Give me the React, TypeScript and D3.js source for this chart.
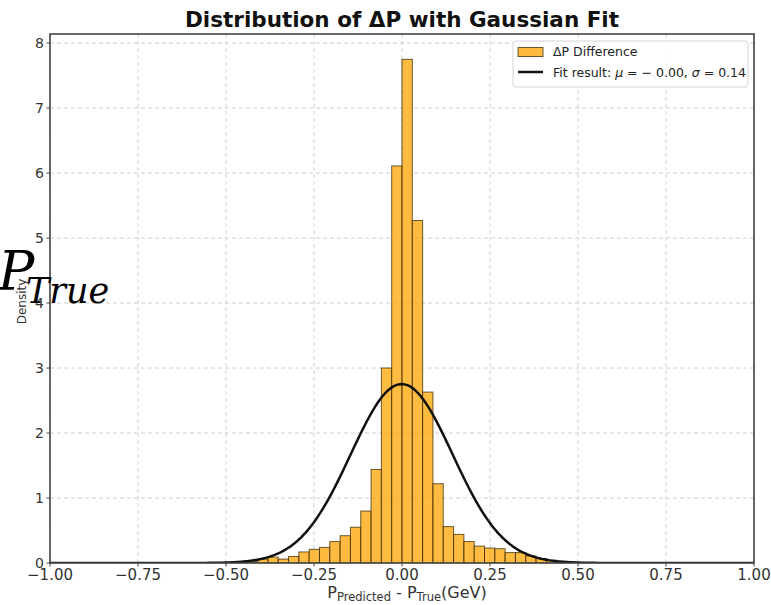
import React from "react";
import * as d3 from "d3";

// Histogram: first bin lower edge and bin width (GeV)
const binStart = -0.5274;
const binWidth = 0.0293;
// Density per bin (left to right)
const densities = [
  0.005, 0.005, 0.01, 0.02, 0.06, 0.09, 0.06, 0.1, 0.17, 0.21, 0.24, 0.33, 0.42,
  0.55, 0.8, 1.44, 3.0, 6.11, 7.75, 5.27, 2.63, 1.22, 0.56, 0.44, 0.33, 0.26,
  0.23, 0.22, 0.16, 0.16, 0.11, 0.07, 0.04, 0.02, 0.01,
];
// Gaussian fit
const fitMu = -0.001;
const fitSigma = 0.1449;

const xTicks = [-1, -0.75, -0.5, -0.25, 0, 0.25, 0.5, 0.75, 1];
const yTicks = [0, 1, 2, 3, 4, 5, 6, 7, 8];
const xDomain: [number, number] = [-1, 1];
const yDomain: [number, number] = [0, 8.14];

const W = 771;
const H = 605;
const left = 50;
const right = 754;
const top = 34;
const bottom = 563;

const fmtX = (v: number) => (v < 0 ? "\u2212" : "") + Math.abs(v).toFixed(2);

export default function App() {
  const x = d3.scaleLinear().domain(xDomain).range([left, right]);
  const y = d3.scaleLinear().domain(yDomain).range([bottom, top]);

  const bins = densities.map((d, i) => ({
    x0: binStart + i * binWidth,
    x1: binStart + (i + 1) * binWidth,
    d,
  }));

  const pts: [number, number][] = d3.range(0, 401).map((i) => {
    const xv = xDomain[0] + (i / 400) * (xDomain[1] - xDomain[0]);
    const yv =
      Math.exp(-0.5 * ((xv - fitMu) / fitSigma) ** 2) /
      (fitSigma * Math.sqrt(2 * Math.PI));
    return [xv, yv];
  });
  const line = d3
    .line<[number, number]>()
    .x((p) => x(p[0]))
    .y((p) => y(p[1]));

  const font = "DejaVu Sans, sans-serif";
  const barFill = "#ffa500";

  return (
    <svg
      width={W}
      height={H}
      style={{ position: "absolute", left: 0, top: 0, background: "#fff" }}
      fontFamily={font}
    >
      <rect x={0} y={0} width={W} height={H} fill="#fff" />
      <clipPath id="plotclip">
        <rect x={left} y={top} width={right - left} height={bottom - top} />
      </clipPath>
      {/* grid */}
      <g stroke="#cfcfcf" strokeWidth={1} strokeDasharray="4,3">
        {xTicks.map((t) => (
          <line key={"gx" + t} x1={x(t)} x2={x(t)} y1={top} y2={bottom} />
        ))}
        {yTicks.map((t) => (
          <line key={"gy" + t} x1={left} x2={right} y1={y(t)} y2={y(t)} />
        ))}
      </g>
      {/* bars */}
      <g clipPath="url(#plotclip)">
        {bins.map((b, i) => (
          <rect
            key={i}
            x={x(b.x0)}
            y={y(b.d)}
            width={x(b.x1) - x(b.x0)}
            height={y(0) - y(b.d)}
            fill={barFill}
            fillOpacity={0.75}
            stroke="#3a2a05"
            strokeOpacity={0.75}
            strokeWidth={1}
          />
        ))}
        <path d={line(pts) || ""} fill="none" stroke="#111" strokeWidth={2.5} />
      </g>
      {/* frame */}
      <rect
        x={left}
        y={top}
        width={right - left}
        height={bottom - top}
        fill="none"
        stroke="#444"
        strokeWidth={1.6}
      />
      {/* ticks */}
      <g fill="#333" fontSize={15}>
        {xTicks.map((t) => (
          <g key={"tx" + t}>
            <line x1={x(t)} x2={x(t)} y1={bottom} y2={bottom + 3.5} stroke="#444" />
            <text x={x(t)} y={bottom + 17} textAnchor="middle">
              {fmtX(t)}
            </text>
          </g>
        ))}
        {yTicks.map((t) => (
          <g key={"ty" + t}>
            <line x1={left - 3.5} x2={left} y1={y(t)} y2={y(t)} stroke="#444" />
            <text x={left - 6} y={y(t) + 5} textAnchor="end" fontSize={14}>
              {t}
            </text>
          </g>
        ))}
      </g>
      {/* title */}
      <text
        x={(left + right) / 2}
        y={27}
        textAnchor="middle"
        fontWeight="bold"
        fontSize={21.5}
        fill="#111"
      >
        Distribution of ΔP with Gaussian Fit
      </text>
      {/* x label */}
      <text x={407} y={598} textAnchor="middle" fontSize={16} fill="#333">
        P
        <tspan fontSize={11.5} dy={3}>Predicted</tspan>
        <tspan dy={-3}> - P</tspan>
        <tspan fontSize={11.5} dy={3}>True</tspan>
        <tspan dy={-3}>(GeV)</tspan>
      </text>
      {/* y label */}
      <text
        transform={`translate(26,${(top + bottom) / 2 + 3}) rotate(-90)`}
        textAnchor="middle"
        fontSize={12}
        fill="#333"
      >
        Density
      </text>
      {/* overlaid math text */}
      <text x={-2} y={290} fontFamily="DejaVu Serif, serif" fontStyle="italic" fontSize={54} fill="#000">
        P
      </text>
      <text x={26} y={303} fontFamily="DejaVu Serif, serif" fontStyle="italic" fontSize={35} fill="#000">
        True
      </text>
      {/* legend */}
      <g>
        <rect
          x={513}
          y={41}
          width={235}
          height={46}
          rx={3}
          fill="#fff"
          fillOpacity={0.85}
          stroke="#d5d5d5"
        />
        <rect
          x={518}
          y={47.5}
          width={25}
          height={9}
          fill={barFill}
          fillOpacity={0.75}
          stroke="#3a2a05"
          strokeOpacity={0.75}
        />
        <text x={553} y={56} fontSize={12.5} fill="#222">
          ΔP Difference
        </text>
        <line x1={518} x2={543} y1={72} y2={72} stroke="#111" strokeWidth={2.5} />
        <text x={553} y={77} fontSize={12.5} fill="#222">
          Fit result:{" "}
          <tspan fontStyle="italic">μ</tspan>
          <tspan>{" = \u2212 0.00, "}</tspan>
          <tspan fontStyle="italic">σ</tspan>
          <tspan>{" = 0.14"}</tspan>
        </text>
      </g>
    </svg>
  );
}
